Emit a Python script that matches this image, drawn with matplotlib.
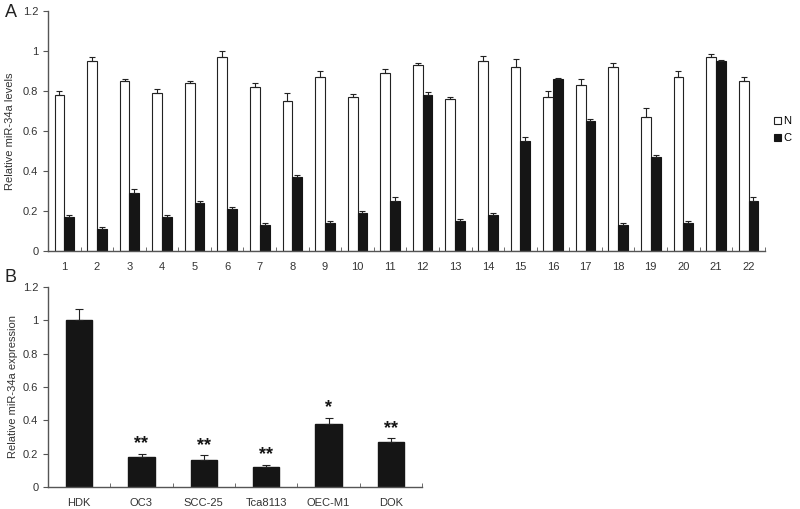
import numpy as np
import matplotlib
matplotlib.use("Agg")
import matplotlib.pyplot as plt
from matplotlib.patches import Patch

plt.rcParams['font.family'] = ['Liberation Sans', 'DejaVu Sans']

# panel A data
samples = [str(i) for i in range(1, 23)]
n_vals = [0.78, 0.95, 0.85, 0.79, 0.84, 0.97, 0.82, 0.75, 0.87, 0.77, 0.89,
          0.93, 0.76, 0.95, 0.92, 0.77, 0.83, 0.92, 0.67, 0.87, 0.97, 0.85]
n_err = [0.02, 0.02, 0.01, 0.02, 0.01, 0.03, 0.02, 0.04, 0.03, 0.015, 0.02,
         0.01, 0.01, 0.025, 0.04, 0.03, 0.03, 0.02, 0.045, 0.03, 0.015, 0.02]
c_vals = [0.17, 0.11, 0.29, 0.17, 0.24, 0.21, 0.13, 0.37, 0.14, 0.19, 0.25,
          0.78, 0.15, 0.18, 0.55, 0.86, 0.65, 0.13, 0.47, 0.14, 0.95, 0.25]
c_err = [0.01, 0.01, 0.02, 0.01, 0.01, 0.01, 0.01, 0.01, 0.01, 0.01, 0.02,
         0.015, 0.008, 0.01, 0.02, 0.008, 0.01, 0.008, 0.008, 0.008, 0.008, 0.02]

# panel B data
cells = ['HDK', 'OC3', 'SCC-25', 'Tca8113', 'OEC-M1', 'DOK']
b_vals = [1.0, 0.18, 0.16, 0.12, 0.38, 0.27]
b_err = [0.068, 0.02, 0.03, 0.015, 0.036, 0.022]
b_sig = ['', '**', '**', '**', '*', '**']

spine_col = '#555555'
txt_col = '#333333'

fig = plt.figure(figsize=(8, 5.09), dpi=100)
axA = fig.add_axes([0.06, 0.507, 0.896, 0.471])
axB = fig.add_axes([0.06, 0.0432, 0.4675, 0.393])


def style(ax):
    for s in ['top', 'right']:
        ax.spines[s].set_visible(False)
    for s in ['left', 'bottom']:
        ax.spines[s].set_color(spine_col)
        ax.spines[s].set_linewidth(1.0)
    ax.set_ylim(0, 1.2)
    ax.set_yticks([0, 0.2, 0.4, 0.6, 0.8, 1.0, 1.2])
    ax.set_yticklabels(['0', '0.2', '0.4', '0.6', '0.8', '1', '1.2'])
    ax.tick_params(axis='y', direction='out', length=3.5, color=spine_col,
                   labelsize=8, labelcolor=txt_col, pad=3.5)
    ax.tick_params(axis='x', which='major', length=0, labelsize=8,
                   labelcolor=txt_col, pad=8)
    ax.tick_params(axis='x', which='minor', direction='in', length=3,
                   color=spine_col)


# panel A
x = np.arange(len(samples))
w = 0.3
zeros = np.zeros(len(x))
axA.bar(x - w / 2, n_vals, w, color='white', edgecolor='#222222', linewidth=0.8,
        yerr=[zeros, n_err], error_kw=dict(ecolor='#222222', elinewidth=0.8,
                                            capsize=2.5, capthick=0.8))
axA.bar(x + w / 2, c_vals, w, color='#151515', edgecolor='#151515', linewidth=0.8,
        yerr=[zeros, c_err], error_kw=dict(ecolor='#222222', elinewidth=0.8,
                                            capsize=2.5, capthick=0.8))
axA.set_xlim(-0.5, len(x) - 0.5)
style(axA)
axA.set_xticks(x)
axA.set_xticklabels(samples)
axA.set_xticks(np.arange(len(x) + 1) - 0.5, minor=True)
axA.set_ylabel('Relative miR-34a levels', fontsize=8, color=txt_col)
axA.yaxis.set_label_coords(-0.046, 0.5)

handles = [Patch(facecolor='white', edgecolor='#222222', linewidth=0.8),
           Patch(facecolor='#151515', edgecolor='#151515', linewidth=0.8)]
fig.legend(handles, ['N', 'C'], loc='center left', bbox_to_anchor=(0.962, 0.745),
           frameon=False, fontsize=8, handlelength=0.6, handleheight=0.6,
           handletextpad=0.2, labelspacing=0.6, borderaxespad=0)

# panel B
xb = np.arange(len(cells))
zb = np.zeros(len(xb))
axB.bar(xb, b_vals, 0.42, color='#151515', edgecolor='#151515',
        yerr=[zb, b_err], error_kw=dict(ecolor='#222222', elinewidth=0.8,
                                         capsize=3, capthick=0.8))
for xi, v, e, s in zip(xb, b_vals, b_err, b_sig):
    if s:
        axB.text(xi, v + e + 0.01, s, ha='center', va='bottom', fontsize=13,
                 fontweight='bold', color='#151515')
axB.set_xlim(-0.5, len(xb) - 0.5)
style(axB)
axB.set_xticks(xb)
axB.set_xticklabels(cells)
axB.set_xticks(np.arange(len(xb) + 1) - 0.5, minor=True)
axB.set_ylabel('Relative miR-34a expression', fontsize=8, color=txt_col)
axB.yaxis.set_label_coords(-0.080, 0.5)

fig.text(0.006, 0.975, 'A', fontsize=13, color='#222222', va='center')
fig.text(0.006, 0.455, 'B', fontsize=13, color='#222222', va='center')

fig.savefig('out.png', dpi=100, facecolor='white')
